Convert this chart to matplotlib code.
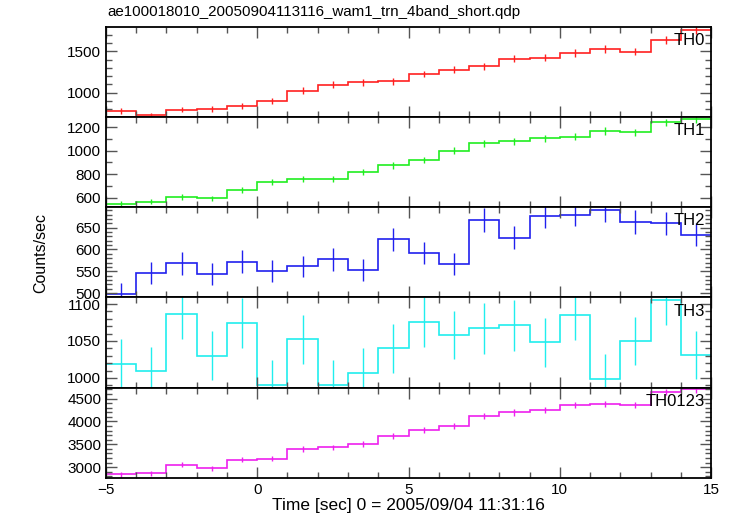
import numpy as np
import matplotlib.pyplot as plt
from matplotlib.ticker import MultipleLocator

plt.rcParams['font.family'] = ['Liberation Sans', 'DejaVu Sans']

# 1-sec bins from -5 to 15
edges = np.arange(-5, 16, 1)
centers = edges[:-1] + 0.5

th0 = [774, 725, 794, 802, 842, 903, 1024, 1097, 1125, 1135, 1225, 1278, 1318, 1411, 1423,
       1479, 1528, 1496, 1633, 1762]
th0_err = [34, 33, 34, 34, 35, 36, 38, 39, 40, 40, 41, 42, 43, 44, 44, 45, 46, 45, 47, 49]

th1 = [546, 566, 606, 594, 665, 733, 756, 758, 818, 874, 920, 1000, 1062, 1082, 1105,
       1119, 1167, 1156, 1241, 1266]
th1_err = [22, 22, 23, 23, 24, 25, 26, 26, 27, 28, 28, 29, 30, 30, 31, 31, 32, 31, 33, 33]

th2 = [497, 546, 568, 544, 572, 550, 561, 577, 552, 623, 592, 566, 667, 627, 677,
       680, 691, 663, 660, 634]
th2_err = [25, 25, 26, 25, 26, 25, 25, 26, 25, 26, 26, 25, 27, 26, 27, 27, 27, 27, 27, 26]

th3 = [1019, 1009, 1086, 1030, 1074, 991, 1052, 991, 1007, 1040, 1076, 1058, 1067, 1071, 1048,
       1085, 999, 1050, 1106, 1031]
th3_err = [33, 33, 34, 33, 34, 33, 33, 33, 33, 33, 34, 33, 34, 34, 33, 34, 33, 33, 34, 33]

th0123 = [2842, 2863, 3058, 2978, 3166, 3187, 3396, 3432, 3504, 3680, 3814, 3907, 4123, 4195, 4246,
          4361, 4382, 4361, 4642, 4700]
th0123_err = [56, 56, 58, 57, 59, 59, 61, 61, 62, 63, 64, 65, 67, 67, 68, 69, 69, 69, 71, 71]

names = ['TH0', 'TH1', 'TH2', 'TH3', 'TH0123']
series = [th0, th1, th2, th3, th0123]
errors = [th0_err, th1_err, th2_err, th3_err, th0123_err]
colors = ['#ff2020', '#20ee20', '#2020ee', '#20eeee', '#ee20ee']
ylims = [(705, 1795), (518, 1287), (490, 697), (987, 1109), (2770, 4740)]
majors = [500, 200, 50, 50, 500]
minors = [100, 100, 10, 10, 100]

fig, axes = plt.subplots(5, 1, sharex=True, figsize=(7.33, 5.16), dpi=100)
fig.subplots_adjust(left=0.1446, right=0.970, top=0.948, bottom=0.0742, hspace=0)

for ax, name, y, e, c, lim, mj, mn in zip(axes, names, series, errors, colors, ylims, majors, minors):
    ax.stairs(y, edges, baseline=None, color=c, lw=1.2)
    ax.errorbar(centers, y, yerr=e, fmt='none', ecolor=c, elinewidth=1.0)
    ax.set_ylim(*lim)
    ax.set_xlim(-5, 15)
    ax.yaxis.set_major_locator(MultipleLocator(mj))
    ax.yaxis.set_minor_locator(MultipleLocator(mn))
    ax.xaxis.set_major_locator(MultipleLocator(5))
    ax.xaxis.set_minor_locator(MultipleLocator(1))
    ax.tick_params(which='both', direction='in', top=True, right=True, color='#555555',
                   labelsize=11)
    ax.tick_params(which='major', length=8, width=1)
    ax.tick_params(which='minor', length=4, width=1)
    for sp in ax.spines.values():
        sp.set_linewidth(1.3)
    ax.text(0.99, 0.93, name, transform=ax.transAxes, ha='right', va='top', fontsize=12)

axes[-1].set_xlabel('Time [sec] 0 = 2005/09/04 11:31:16', fontsize=12.5, labelpad=1)
fig.text(0.055, 0.51, 'Counts/sec', rotation=90, ha='center', va='center', fontsize=11.5)
fig.text(0.147, 0.977, 'ae100018010_20050904113116_wam1_trn_4band_short.qdp',
         ha='left', va='center', fontsize=10.9)

fig.savefig('out.png', dpi=100)
